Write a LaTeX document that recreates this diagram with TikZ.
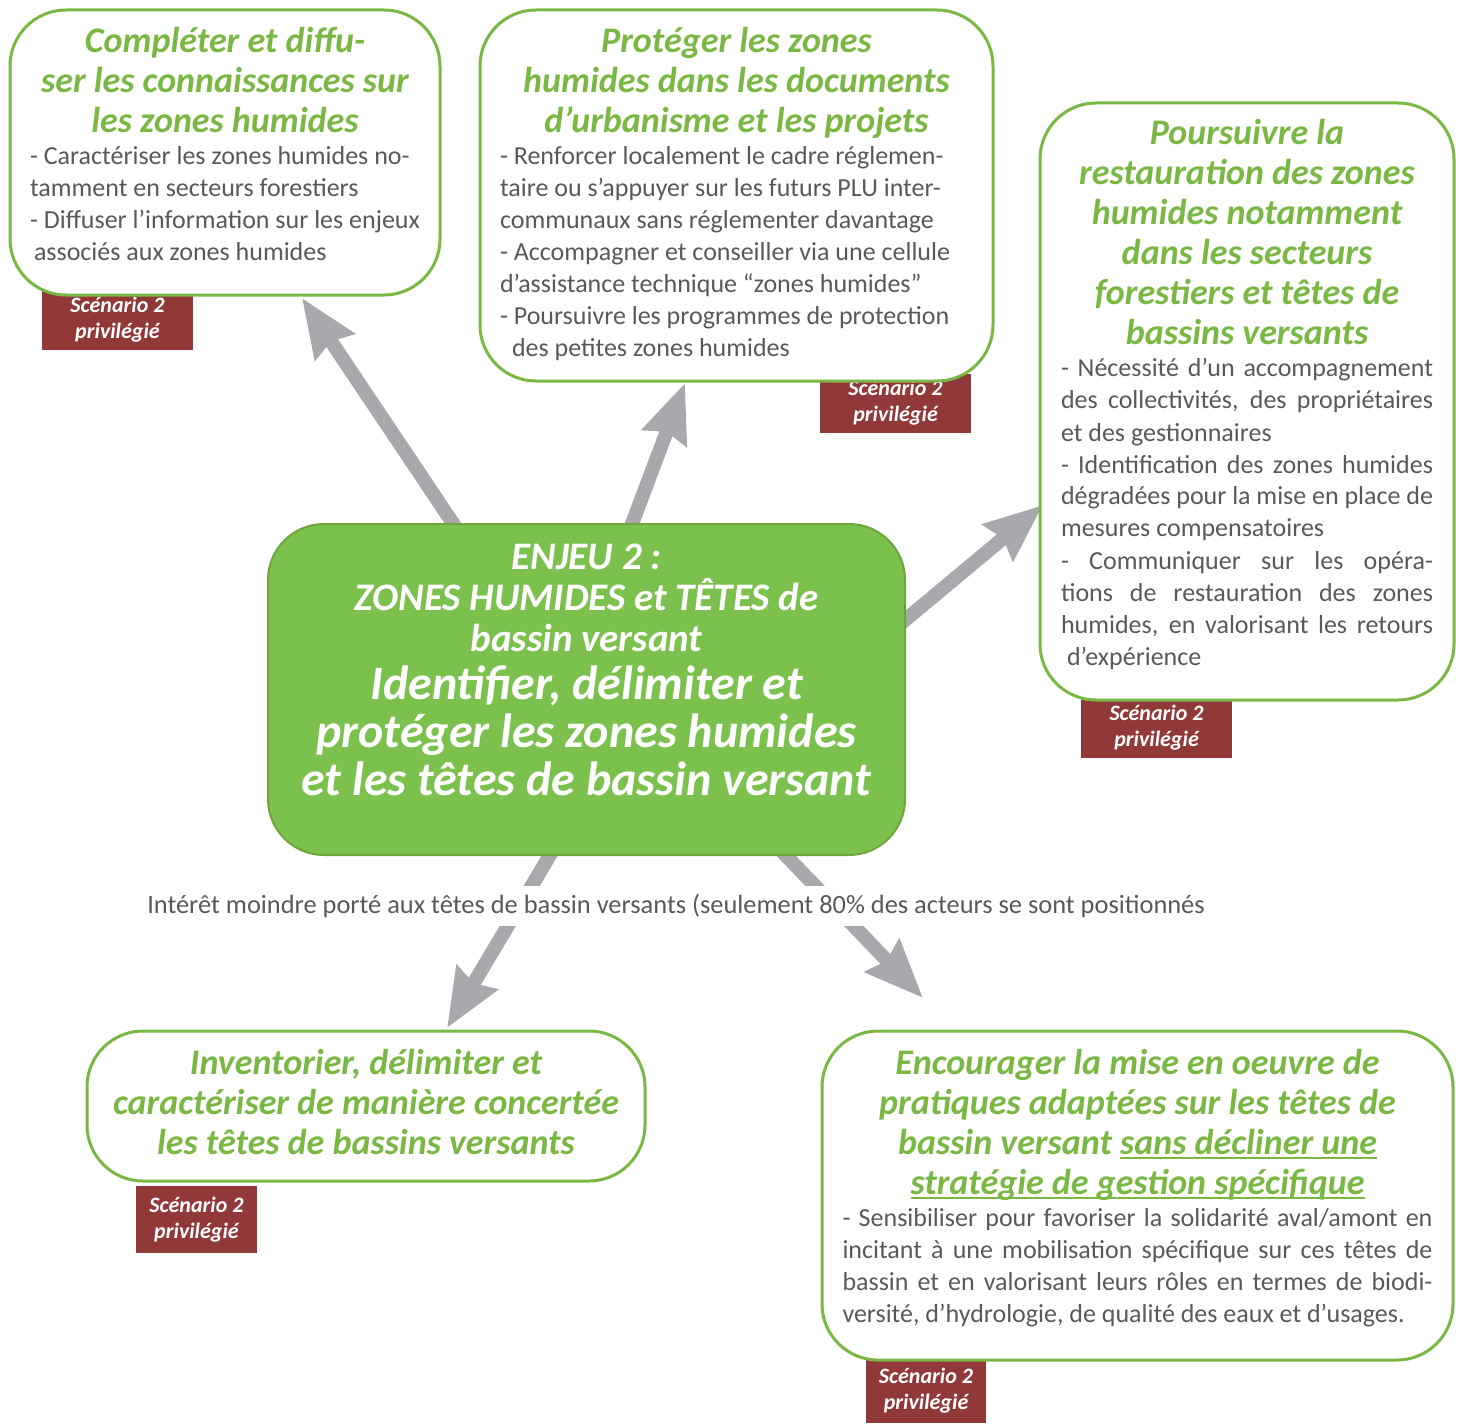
\documentclass[tikz,border=0pt]{standalone}
\usepackage{fontspec}
\setmainfont{Carlito}
\usetikzlibrary{arrows.meta,backgrounds}

\definecolor{leaf}{RGB}{122,184,68}
\definecolor{leaffill}{RGB}{124,193,77}
\definecolor{wine}{RGB}{145,56,56}
\definecolor{ash}{RGB}{167,169,172}
\definecolor{ink}{RGB}{89,89,89}

\tikzstyle{goal}=[draw=leaf, line width=1.5pt, fill=white, rounded corners=28pt, inner sep=0pt]
\tikzstyle{enjeu}=[draw=leaf!90!black, line width=1pt, fill=leaffill, rounded corners=28pt, inner sep=0pt]
\tikzstyle{badge}=[fill=wine, text=white, inner sep=0pt, align=center, font=\fontsize{11pt}{13pt}\selectfont\bfseries\itshape, execute at begin node={\rule{0pt}{12pt}}]
\tikzstyle{flowarrow}=[draw=ash, line width=7pt, -{Stealth[length=29pt,width=23pt,inset=3pt]}]

\newcommand{\gtitle}{\fontsize{18pt}{20pt}\selectfont\bfseries\itshape\color{leaf}}
\newcommand{\gbody}{\fontsize{13pt}{16pt}\selectfont\color{ink}}
\newcommand{\panelbox}[3]{\begin{minipage}[t][#1][t]{#2}#3\end{minipage}}
\newcommand{\justline}[1]{\makebox[\linewidth][s]{#1}\par}
\newcommand{\gline}[1]{\leavevmode\setbox0\hbox{#1}\rlap{\rule[-2.5pt]{\wd0}{1pt}}\box0}

\begin{document}
\begin{tikzpicture}[x=0.5pt, y=-0.5pt]

    \useasboundingbox (0,0) rectangle (1459,1423);

    % central issue
    \node[enjeu, minimum width=318.5pt, minimum height=165.5pt] (enjeu) at (586.5,689.5) {\panelbox{165.5pt}{310pt}{\centering\color{white}\bfseries\itshape
        \fontsize{19.5pt}{20.5pt}\selectfont\rule{0pt}{22.5pt}ENJEU 2 :\\ ZONES HUMIDES et TÊTES de\\ bassin versant\par
        \fontsize{24pt}{24pt}\selectfont Identifier, délimiter et\\ protéger les zones humides\\ et les têtes de bassin versant\par}};

    % goals
    \node[goal, minimum width=215pt, minimum height=142.5pt] (ga) at (225,152.5) {\panelbox{142.5pt}{195pt}{%
        {\centering\gtitle\rule{0pt}{21.5pt}Compléter et diffu-\\ ser les connaissances sur\\ les zones humides\par}
        {\raggedright\gbody - Caractériser les zones humides no-\\ tamment en secteurs forestiers\\ - Diffuser l’information sur les enjeux\\ \hspace*{2pt}associés aux zones humides\par}}};

    \node[goal, minimum width=256.5pt, minimum height=185.5pt] (gb) at (736.5,195.5) {\panelbox{185.5pt}{236.5pt}{%
        {\centering\gtitle\rule{0pt}{21.5pt}Protéger les zones\\ humides dans les documents\\ d’urbanisme et les projets\par}
        {\raggedright\gbody - Renforcer localement le cadre réglemen-\\ taire ou s’appuyer sur les futurs PLU inter-\\ communaux sans réglementer davantage\\ - Accompagner et conseiller via une cellule\\ d’assistance technique “zones humides”\\ - Poursuivre les programmes de protection\\ \hspace*{6pt}des petites zones humides\par}}};

    \node[goal, minimum width=207pt, minimum height=298.5pt] (gc) at (1247,401.5) {\panelbox{298.5pt}{186pt}{%
        {\centering\gtitle\rule{0pt}{21pt}Poursuivre la\\ restauration des zones\\ humides notamment\\ dans les secteurs\\ forestiers et têtes de\\ bassins versants\par}
        {\gbody
        \justline{- Nécessité d’un accompagnement}\justline{des collectivités, des propriétaires}et des gestionnaires\par
        \justline{- Identification des zones humides}\justline{dégradées pour la mise en place de}mesures compensatoires\par
        \justline{- Communiquer sur les opéra-}\justline{tions de restauration des zones}\justline{humides, en valorisant les retours}\hspace*{3pt}d’expérience\par}}};

    \node[goal, minimum width=279pt, minimum height=75pt] (gd) at (366,1106) {\panelbox{75pt}{270pt}{\centering\gtitle\rule{0pt}{21.5pt}Inventorier, délimiter et\\ caractériser de manière concertée\\ les têtes de bassins versants\par}};

    \node[goal, minimum width=315.5pt, minimum height=164.5pt] (ge) at (1137.5,1195.5) {\panelbox{164.5pt}{295pt}{%
        {\centering\gtitle\rule{0pt}{21.5pt}Encourager la mise en oeuvre de\\ pratiques adaptées sur les têtes de\\ bassin versant \gline{sans décliner une}\\ \gline{stratégie de gestion spécifique}\par}
        {\gbody\justline{- Sensibiliser pour favoriser la solidarité aval/amont en}\justline{incitant à une mobilisation spécifique sur ces têtes de}\justline{bassin et en valorisant leurs rôles en termes de biodi-}versité, d’hydrologie, de qualité des eaux et d’usages.\par}}};

    % remark across the lower arrows
    \node[fill=white, inner xsep=4pt, inner ysep=4pt, text=ink, font=\fontsize{13.2pt}{15pt}\selectfont] (note) at (676,906) {Intérêt moindre porté aux têtes de bassin versants (seulement 80\% des acteurs se sont positionnés};

    \begin{pgfonlayer}{background}
    % scenario tags
    \node[badge, minimum width=75.5pt, minimum height=29.5pt] (sa) at (117.5,320) {Scénario 2\\ privilégié};
    \node[badge, minimum width=75.5pt, minimum height=29.5pt] (sb) at (895.5,403) {Scénario 2\\ privilégié};
    \node[badge, minimum width=75.5pt, minimum height=30pt] (sc) at (1156.5,728) {Scénario 2\\ privilégié};
    \node[badge, minimum width=60.5pt, minimum height=33.5pt] (sd) at (196.5,1219.5) {Scénario 2\\ privilégié};
    \node[badge, minimum width=60pt, minimum height=32.5pt] (se) at (926,1390.5) {Scénario 2\\ privilégié};

    % arrows
    \coordinate (fa) at (499,592);   \coordinate (ta) at (302,298);
    \coordinate (fb) at (612,577);   \coordinate (tb) at (685,383);
    \coordinate (fc) at (850,666);   \coordinate (tc) at (1043,505);
    \coordinate (fd) at (581,803);   \coordinate (td) at (447,1028);
    \coordinate (fe) at (744,812);   \coordinate (te) at (923,998);
    \draw[flowarrow] (fa) -- (ta);
    \draw[flowarrow] (fb) -- (tb);
    \draw[flowarrow] (fc) -- (tc);
    \draw[flowarrow] (fd) -- (td);
    \draw[flowarrow] (fe) -- (te);
    \end{pgfonlayer}

\end{tikzpicture}
\end{document}
